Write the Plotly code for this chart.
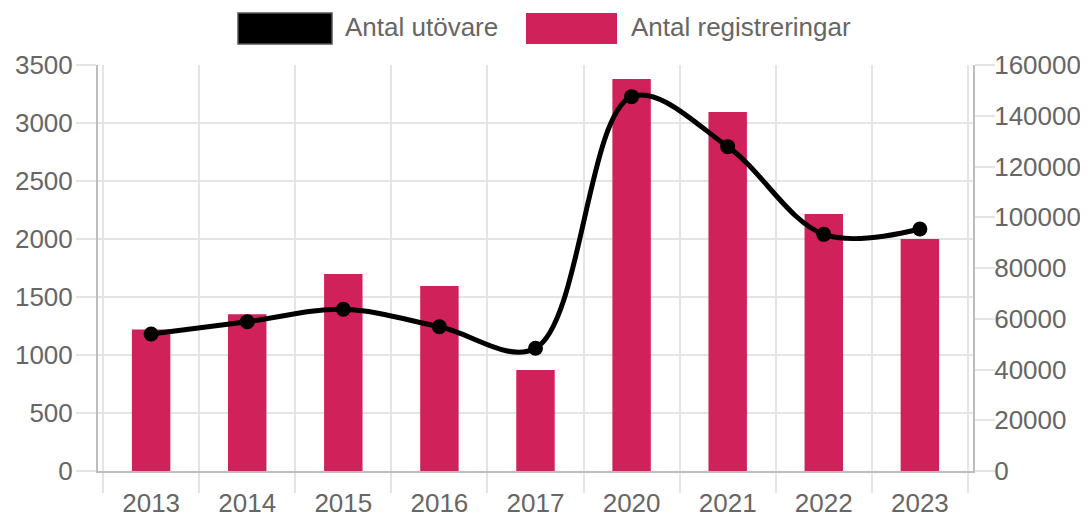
import plotly.graph_objects as go

years = ["2013", "2014", "2015", "2016", "2017", "2020", "2021", "2022", "2023"]
utovare = [1181, 1287, 1394, 1244, 1058, 3227, 2796, 2040, 2086]
registreringar = [55800, 61750, 77600, 72900, 39800, 154500, 141500, 101300, 91400]

line_name = "Antal utövare"
bar_name = "Antal registreringar"
bar_color = "#D0215B"
text_color = "#666666"
grid_color = "#e4e4e4"
axis_color = "#bdbdbd"
FONT = "Liberation Sans, Arial, sans-serif"
FS = 26

# page body has an 8px margin; size the figure so it fits the 1088x519 window
OFF = 8
W, H = 1088 - OFF, 519 - OFF
# plot area in window pixels: x 98..973, y 65..471
L = 98 - OFF
R = W - (973 - OFF)
T = 65 - OFF
B = H - (471 - OFF)
PW, PH = W - L - R, H - T - B


def px(x):
    return (x - OFF - L) / PW


def py(y):
    return (H - B - (y - OFF)) / PH


fig = go.Figure()
fig.add_trace(go.Bar(
    x=years, y=registreringar, name=bar_name, marker_color=bar_color,
    marker_line_width=0, yaxis="y", showlegend=False,
))
fig.add_trace(go.Scatter(
    x=years, y=utovare, name=line_name, mode="lines+markers",
    line=dict(color="black", width=5, shape="spline", smoothing=1.0),
    marker=dict(color="black", size=15), yaxis="y2", showlegend=False,
))

fig.update_layout(
    width=W, height=H,
    margin=dict(l=L, r=R, t=T, b=B, autoexpand=False),
    paper_bgcolor="white", plot_bgcolor="white",
    font=dict(family=FONT, size=FS, color=text_color),
    bargap=0.6,
    xaxis=dict(
        type="category", tickson="boundaries", ticks="outside", ticklen=20,
        tickcolor=grid_color, tickwidth=1.5,
        showgrid=True, gridcolor=grid_color, gridwidth=1.5,
        showline=True, linecolor=axis_color, linewidth=2,
        tickfont=dict(family=FONT, size=FS, color=text_color),
        automargin=False, ticklabelstandoff=8,
    ),
    yaxis=dict(
        side="right", range=[0, 160000], dtick=20000, showgrid=False,
        ticks="outside", ticklen=20, tickcolor=grid_color, tickwidth=1.5,
        showline=True, linecolor=axis_color, linewidth=2,
        tickfont=dict(family=FONT, size=FS, color=text_color),
        zeroline=False, tickformat="d", automargin=False,
        ticklabelstandoff=-6,
    ),
    yaxis2=dict(
        overlaying="y", side="left", range=[0, 3500], dtick=500,
        showgrid=True, gridcolor=grid_color, gridwidth=1.5,
        ticks="outside", ticklen=20, tickcolor=grid_color, tickwidth=1.5,
        showline=True, linecolor=axis_color, linewidth=2,
        tickfont=dict(family=FONT, size=FS, color=text_color),
        zeroline=False, tickformat="d", automargin=False,
        ticklabelstandoff=-2,
    ),
)

# custom legend (large swatches like the original)
fig.add_shape(type="rect", xref="paper", yref="paper",
              x0=px(238), x1=px(332), y0=py(44), y1=py(13),
              fillcolor="black", line=dict(color="#555555", width=1.5))
fig.add_shape(type="rect", xref="paper", yref="paper",
              x0=px(526), x1=px(617), y0=py(44), y1=py(13),
              fillcolor=bar_color, line=dict(width=0))
fig.add_annotation(xref="paper", yref="paper", x=px(343), y=py(27),
                   text=line_name, showarrow=False, xanchor="left", yanchor="middle",
                   font=dict(family=FONT, size=FS, color=text_color))
fig.add_annotation(xref="paper", yref="paper", x=px(629), y=py(27),
                   text=bar_name, showarrow=False, xanchor="left", yanchor="middle",
                   font=dict(family=FONT, size=FS, color=text_color))

fig.write_html("out.html")
